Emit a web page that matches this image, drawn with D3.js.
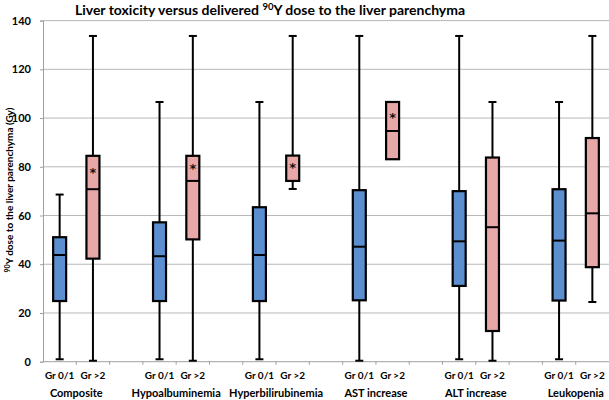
<!DOCTYPE html>
<html><head><meta charset="utf-8">
<script src="https://cdn.jsdelivr.net/npm/d3@7"></script>
<style>body{margin:0;background:#fff}svg{display:block}</style>
</head><body>
<svg id="c" width="609" height="400"></svg>
<script>
const groups = ["Composite","Hypoalbuminemia","Hyperbilirubinemia","AST increase","ALT increase","Leukopenia"];
const grades = ["Gr 0/1","Gr >2"];
const yTicks = [0,20,40,60,80,100,120,140];
// per box: [whiskerLow, q1, median, q3, whiskerHigh]
const low    = [[1.0,0.4],[1.0,0.4],[1.0,70.9],[0.4,null],[1.0,0.4],[1.0,24.5]];
const q1     = [[24.9,42.3],[24.9,50.2],[24.9,74.2],[25.2,83.1],[31.1,12.6],[25.1,38.8]];
const median = [[43.8,70.8],[43.3,74.2],[43.8,null],[47.2,94.7],[49.4,55.2],[49.7,60.9]];
const q3     = [[51.1,84.5],[57.2,84.5],[63.4,84.6],[70.4,106.6],[70.0,83.8],[70.8,91.8]];
const high   = [[68.6,133.7],[106.6,133.7],[106.6,133.7],[133.7,106.6],[133.7,106.6],[106.6,133.7]];
const star   = [[null,78.3],[null,80.1],[null,80.3],[null,100.9],[null,null],[null,null]];

const fills = ["#5b8fd0","#e8a8a8"];
const svg = d3.select("#c");
const L = 43, R = 609, T = 20.6, B = 361.7;
const font = "Lato, 'Open Sans', sans-serif";

const slots = [];
groups.forEach((g,gi)=>{ grades.forEach((s,si)=>slots.push(gi+"_"+si)); if(gi<groups.length-1) slots.push("sp"+gi); });
const x = d3.scaleBand().domain(slots).range([L,R]).padding(0);
const y = d3.scaleLinear().domain([0,140]).range([B,T]);

svg.append("g").selectAll("line").data(yTicks.filter(d=>d>0)).join("line")
  .attr("x1",L).attr("x2",R).attr("y1",d=>y(d)).attr("y2",d=>y(d))
  .attr("stroke","#b8b8b8").attr("stroke-width",1);

const ya = svg.append("g").attr("transform",`translate(${L},0)`)
  .call(d3.axisLeft(y).tickValues(yTicks).tickSize(3).tickPadding(9));
ya.select(".domain").attr("stroke","#a0a0a0");
ya.selectAll(".tick line").attr("stroke","#a0a0a0");
ya.selectAll(".tick text").attr("font-family",font).attr("font-weight","bold").attr("font-size",11).attr("fill","#000");

svg.append("line").attr("x1",L).attr("x2",R).attr("y1",B).attr("y2",B).attr("stroke","#a0a0a0");
svg.append("g").selectAll("line").data(slots.slice(1)).join("line")
  .attr("x1",d=>x(d)).attr("x2",d=>x(d)).attr("y1",B).attr("y2",B+3).attr("stroke","#a0a0a0");

const bw = 13;
const data = [];
groups.forEach((g,gi)=>grades.forEach((s,si)=>data.push({
  key:gi+"_"+si, si, lo:low[gi][si], q1:q1[gi][si], med:median[gi][si], q3:q3[gi][si], hi:high[gi][si], st:star[gi][si]
})));
const bx = svg.append("g");
data.forEach(d=>{
  const cx = x(d.key)+x.bandwidth()/2;
  const g = bx.append("g");
  if(d.hi!=null && d.hi>d.q3){
    g.append("line").attr("x1",cx).attr("x2",cx).attr("y1",y(d.hi)).attr("y2",y(d.q3)).attr("stroke","#000").attr("stroke-width",2);
    g.append("line").attr("x1",cx-4).attr("x2",cx+4).attr("y1",y(d.hi)).attr("y2",y(d.hi)).attr("stroke","#000").attr("stroke-width",2);
  }
  if(d.lo!=null && d.lo<d.q1){
    g.append("line").attr("x1",cx).attr("x2",cx).attr("y1",y(d.q1)).attr("y2",y(d.lo)).attr("stroke","#000").attr("stroke-width",2);
    g.append("line").attr("x1",cx-4).attr("x2",cx+4).attr("y1",y(d.lo)).attr("y2",y(d.lo)).attr("stroke","#000").attr("stroke-width",2);
  }
  g.append("rect").attr("x",cx-bw/2).attr("width",bw).attr("y",y(d.q3)).attr("height",y(d.q1)-y(d.q3))
    .attr("fill",fills[d.si]).attr("stroke","#000").attr("stroke-width",2.2);
  if(d.med!=null){
    g.append("line").attr("x1",cx-bw/2).attr("x2",cx+bw/2).attr("y1",y(d.med)).attr("y2",y(d.med)).attr("stroke","#000").attr("stroke-width",2);
  }
  if(d.st!=null){
    g.append("text").attr("x",cx).attr("y",y(d.st)+6).attr("text-anchor","middle")
      .attr("font-family","DejaVu Sans, sans-serif").attr("font-weight","bold").attr("font-size",13).attr("fill","#111").text("*");
  }
});

svg.append("g").selectAll("text").data(data).join("text")
  .attr("x",d=>x(d.key)+x.bandwidth()/2).attr("y",379).attr("text-anchor","middle")
  .attr("font-family",font).attr("font-weight","bold").attr("font-size",10).text(d=>grades[d.si]);
svg.append("g").selectAll("text").data(groups).join("text")
  .attr("x",(g,gi)=>x(gi+"_1")).attr("y",397).attr("text-anchor","middle")
  .attr("font-family",font).attr("font-weight","bold").attr("font-size",11).text(d=>d);

const t = svg.append("text").attr("x",270).attr("y",15).attr("text-anchor","middle")
  .attr("font-family",font).attr("font-weight","bold").attr("font-size",14);
t.append("tspan").text("Liver toxicity versus delivered ");
t.append("tspan").attr("font-size",9.5).attr("dy",-5.5).text("90");
t.append("tspan").attr("dy",5.5).text("Y dose to the liver parenchyma");

const yl = svg.append("text").attr("transform","translate(13,190) rotate(-90)").attr("text-anchor","middle")
  .attr("font-family",font).attr("font-weight","bold").attr("font-size",10);
yl.append("tspan").attr("font-size",7).attr("dy",-3.5).text("90");
yl.append("tspan").attr("dy",3.5).text("Y dose to the liver parenchyma (Gy)");
</script>
</body></html>
